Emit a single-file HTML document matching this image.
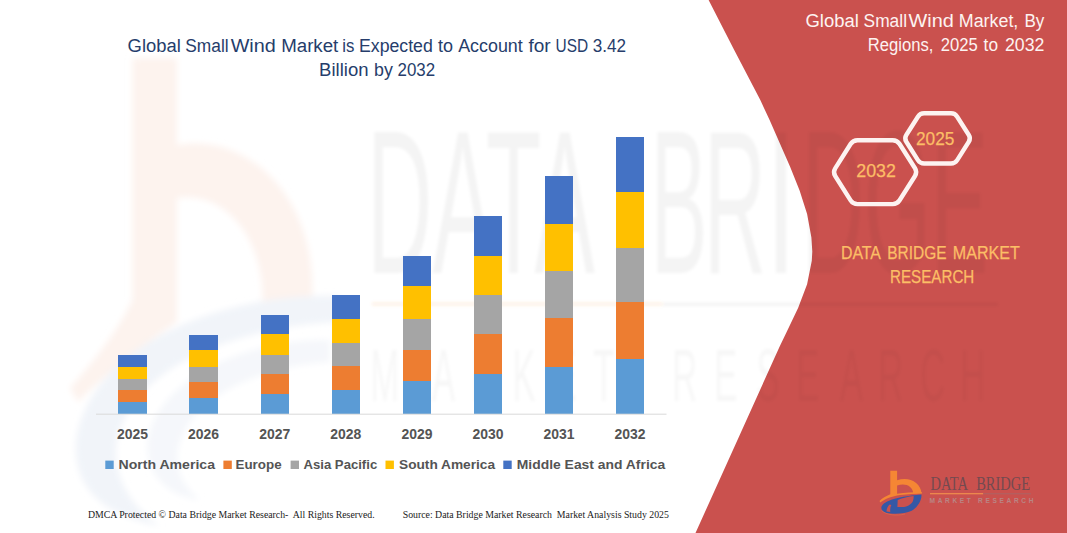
<!DOCTYPE html>
<html><head><meta charset="utf-8"><title>Global Small Wind Market</title>
<style>
html,body{margin:0;padding:0;background:#fff;}
body{width:1067px;height:533px;overflow:hidden;font-family:"Liberation Sans",sans-serif;}
svg{display:block}
svg text{font-family:"Liberation Sans",sans-serif;}
.serif{font-family:"Liberation Serif",serif !important;}
</style></head><body>
<svg width="1067" height="533" viewBox="0 0 1067 533">
<defs><filter id="bl" x="-5%" y="-5%" width="110%" height="110%"><feGaussianBlur stdDeviation="1.6"/></filter><filter id="bl2" x="-10%" y="-10%" width="120%" height="120%"><feGaussianBlur stdDeviation="3"/></filter></defs>
<rect width="1067" height="533" fill="#ffffff"/>

<!-- faint watermark logo -->
<g id="wm-logo" filter="url(#bl2)">
<path d="M132.5,58 L177,58 L177,145 C250,132 318,200 312,300 L262,312 C268,240 225,190 177,198 L177,322 C150,340 110,370 78,402 L70,388 C95,360 118,330 132.5,300 Z" fill="#fdf3ee"/>
<path d="M340,296 C230,292 92,340 76,440 C72,485 100,515 160,526 C114,495 108,450 124,420 C150,360 250,325 340,322 Z" fill="#f1f4f9"/>
<path d="M330,340 C260,338 170,370 150,430 C140,465 160,495 200,500 C175,480 172,455 184,432 C205,390 270,365 330,362 Z" fill="#f5f7fb"/>
</g>
<!-- red panel -->
<path id="panel" d="M708.6,0 L734.2,50 L760.3,100 L769.6,120 L779.9,143.5 L790.2,167 L799.6,190.4 L807.1,213.9 L811.4,237.4 L812.3,251.5 L811.8,260.8 L807.1,284.3 L798.2,307.8 L787,331.3 L780,345.7 L695.5,533 L1067,533 L1067,0 Z" fill="#ca514e"/>

<!-- faint watermark text -->
<g id="wm-text" fill="#000" fill-opacity="0.045" filter="url(#bl)">
<text x="367" y="273" font-size="205" textLength="228" lengthAdjust="spacingAndGlyphs">DATA</text>
<g font-size="205"><text x="650.5" y="273" textLength="57" lengthAdjust="spacingAndGlyphs">B</text>
<text x="704" y="273" textLength="62" lengthAdjust="spacingAndGlyphs">R</text>
<text x="766" y="273" textLength="30" lengthAdjust="spacingAndGlyphs">I</text>
<text x="802" y="273" textLength="62" lengthAdjust="spacingAndGlyphs">D</text>
<text x="864" y="273" textLength="67" lengthAdjust="spacingAndGlyphs">G</text>
<text x="931" y="273" textLength="57" lengthAdjust="spacingAndGlyphs">E</text></g>
<g font-size="75" fill-opacity="0.032"><text x="370.4" y="401" textLength="28.7" lengthAdjust="spacingAndGlyphs">M</text><text x="432.0" y="401" textLength="23.0" lengthAdjust="spacingAndGlyphs">A</text><text x="471.2" y="401" textLength="24.9" lengthAdjust="spacingAndGlyphs">R</text><text x="512.4" y="401" textLength="23.0" lengthAdjust="spacingAndGlyphs">K</text><text x="553.2" y="401" textLength="23.0" lengthAdjust="spacingAndGlyphs">E</text><text x="593.3" y="401" textLength="21.1" lengthAdjust="spacingAndGlyphs">T</text><text x="672.2" y="401" textLength="24.9" lengthAdjust="spacingAndGlyphs">R</text><text x="714.2" y="401" textLength="23.0" lengthAdjust="spacingAndGlyphs">E</text><text x="756.4" y="401" textLength="23.0" lengthAdjust="spacingAndGlyphs">S</text><text x="796.2" y="401" textLength="23.0" lengthAdjust="spacingAndGlyphs">E</text><text x="840.0" y="401" textLength="23.0" lengthAdjust="spacingAndGlyphs">A</text><text x="878.2" y="401" textLength="24.9" lengthAdjust="spacingAndGlyphs">R</text><text x="920.3" y="401" textLength="24.9" lengthAdjust="spacingAndGlyphs">C</text><text x="960.2" y="401" textLength="24.9" lengthAdjust="spacingAndGlyphs">H</text></g>
<rect x="372" y="302.5" width="290" height="3" fill="#f08034" fill-opacity="0.12"/>
<rect x="662" y="302.5" width="336" height="3.5"/>
</g>

<!-- left title -->
<g fill="#263d6b" font-size="18">
<text x="127.6" y="52" textLength="53.2" lengthAdjust="spacingAndGlyphs">Global</text>
<text x="185.3" y="52" textLength="43.3" lengthAdjust="spacingAndGlyphs">Small</text>
<text x="230.7" y="52" textLength="45.1" lengthAdjust="spacingAndGlyphs">Wind</text>
<text x="281.2" y="52" textLength="57.1" lengthAdjust="spacingAndGlyphs">Market</text>
<text x="342.2" y="52" textLength="12.1" lengthAdjust="spacingAndGlyphs">is</text>
<text x="359.0" y="52" textLength="73.8" lengthAdjust="spacingAndGlyphs">Expected</text>
<text x="438.0" y="52" textLength="15.0" lengthAdjust="spacingAndGlyphs">to</text>
<text x="458.2" y="52" textLength="64.6" lengthAdjust="spacingAndGlyphs">Account</text>
<text x="528.5" y="52" textLength="22.2" lengthAdjust="spacingAndGlyphs">for</text>
<text x="555.6" y="52" textLength="32.6" lengthAdjust="spacingAndGlyphs">USD</text>
<text x="592.7" y="52" textLength="33.3" lengthAdjust="spacingAndGlyphs">3.42</text>
<text x="319.1" y="75.9" textLength="49.4" lengthAdjust="spacingAndGlyphs">Billion</text>
<text x="374.0" y="75.9" textLength="18.8" lengthAdjust="spacingAndGlyphs">by</text>
<text x="397.5" y="75.9" textLength="37.6" lengthAdjust="spacingAndGlyphs">2032</text>
</g>

<!-- bars -->
<g id="bars" shape-rendering="crispEdges">
<rect x="118.3" y="354.6" width="28.4" height="12.1" fill="#4472C4"/>
<rect x="118.3" y="366.7" width="28.4" height="12.1" fill="#FFC000"/>
<rect x="118.3" y="378.8" width="28.4" height="11.0" fill="#A5A5A5"/>
<rect x="118.3" y="389.8" width="28.4" height="12.1" fill="#ED7D31"/>
<rect x="118.3" y="401.9" width="28.4" height="11.8" fill="#5B9BD5"/>
<rect x="189.4" y="334.9" width="28.4" height="15.5" fill="#4472C4"/>
<rect x="189.4" y="350.4" width="28.4" height="16.3" fill="#FFC000"/>
<rect x="189.4" y="366.7" width="28.4" height="14.9" fill="#A5A5A5"/>
<rect x="189.4" y="381.6" width="28.4" height="16.0" fill="#ED7D31"/>
<rect x="189.4" y="397.6" width="28.4" height="16.1" fill="#5B9BD5"/>
<rect x="260.5" y="314.6" width="28.4" height="19.7" fill="#4472C4"/>
<rect x="260.5" y="334.3" width="28.4" height="20.3" fill="#FFC000"/>
<rect x="260.5" y="354.6" width="28.4" height="19.7" fill="#A5A5A5"/>
<rect x="260.5" y="374.3" width="28.4" height="19.7" fill="#ED7D31"/>
<rect x="260.5" y="394.0" width="28.4" height="19.7" fill="#5B9BD5"/>
<rect x="331.6" y="294.6" width="28.4" height="24.0" fill="#4472C4"/>
<rect x="331.6" y="318.6" width="28.4" height="23.9" fill="#FFC000"/>
<rect x="331.6" y="342.5" width="28.4" height="23.9" fill="#A5A5A5"/>
<rect x="331.6" y="366.4" width="28.4" height="23.4" fill="#ED7D31"/>
<rect x="331.6" y="389.8" width="28.4" height="23.9" fill="#5B9BD5"/>
<rect x="402.7" y="255.8" width="28.4" height="30.5" fill="#4472C4"/>
<rect x="402.7" y="286.3" width="28.4" height="32.4" fill="#FFC000"/>
<rect x="402.7" y="318.7" width="28.4" height="31.5" fill="#A5A5A5"/>
<rect x="402.7" y="350.2" width="28.4" height="31.1" fill="#ED7D31"/>
<rect x="402.7" y="381.3" width="28.4" height="32.4" fill="#5B9BD5"/>
<rect x="473.7" y="216.0" width="28.4" height="39.8" fill="#4472C4"/>
<rect x="473.7" y="255.8" width="28.4" height="38.7" fill="#FFC000"/>
<rect x="473.7" y="294.5" width="28.4" height="39.7" fill="#A5A5A5"/>
<rect x="473.7" y="334.2" width="28.4" height="40.2" fill="#ED7D31"/>
<rect x="473.7" y="374.4" width="28.4" height="39.3" fill="#5B9BD5"/>
<rect x="544.8" y="175.7" width="28.4" height="48.3" fill="#4472C4"/>
<rect x="544.8" y="224.0" width="28.4" height="46.8" fill="#FFC000"/>
<rect x="544.8" y="270.8" width="28.4" height="47.5" fill="#A5A5A5"/>
<rect x="544.8" y="318.3" width="28.4" height="48.3" fill="#ED7D31"/>
<rect x="544.8" y="366.6" width="28.4" height="47.1" fill="#5B9BD5"/>
<rect x="615.8" y="136.9" width="28.4" height="55.1" fill="#4472C4"/>
<rect x="615.8" y="192.0" width="28.4" height="56.0" fill="#FFC000"/>
<rect x="615.8" y="248.0" width="28.4" height="54.3" fill="#A5A5A5"/>
<rect x="615.8" y="302.3" width="28.4" height="56.5" fill="#ED7D31"/>
<rect x="615.8" y="358.8" width="28.4" height="54.9" fill="#5B9BD5"/>
</g>
<line x1="96" y1="414.2" x2="666.5" y2="414.2" stroke="#d9d9d9" stroke-width="1"/>

<g font-size="14" font-weight="bold" fill="#545454">
<text x="117.0" y="438.8" textLength="31" lengthAdjust="spacingAndGlyphs">2025</text>
<text x="188.1" y="438.8" textLength="31" lengthAdjust="spacingAndGlyphs">2026</text>
<text x="259.2" y="438.8" textLength="31" lengthAdjust="spacingAndGlyphs">2027</text>
<text x="330.3" y="438.8" textLength="31" lengthAdjust="spacingAndGlyphs">2028</text>
<text x="401.4" y="438.8" textLength="31" lengthAdjust="spacingAndGlyphs">2029</text>
<text x="472.4" y="438.8" textLength="31" lengthAdjust="spacingAndGlyphs">2030</text>
<text x="543.5" y="438.8" textLength="31" lengthAdjust="spacingAndGlyphs">2031</text>
<text x="614.5" y="438.8" textLength="31" lengthAdjust="spacingAndGlyphs">2032</text>
</g>
<g font-size="13.4" font-weight="bold" fill="#545454">
<rect x="105.3" y="460.6" width="8.4" height="8.4" fill="#5B9BD5"/>
<text x="118.5" y="469.2" textLength="96.5" lengthAdjust="spacingAndGlyphs">North America</text>
<rect x="223.4" y="460.6" width="8.4" height="8.4" fill="#ED7D31"/>
<text x="235.5" y="469.2" textLength="46.1" lengthAdjust="spacingAndGlyphs">Europe</text>
<rect x="290.6" y="460.6" width="8.4" height="8.4" fill="#A5A5A5"/>
<text x="303.5" y="469.2" textLength="73.7" lengthAdjust="spacingAndGlyphs">Asia Pacific</text>
<rect x="385.5" y="460.6" width="8.4" height="8.4" fill="#FFC000"/>
<text x="399.0" y="469.2" textLength="96.1" lengthAdjust="spacingAndGlyphs">South America</text>
<rect x="503.3" y="460.6" width="8.4" height="8.4" fill="#4472C4"/>
<text x="516.8" y="469.2" textLength="148.4" lengthAdjust="spacingAndGlyphs">Middle East and Africa</text>
</g>

<!-- footer -->
<g class="serif" font-size="9.8" fill="#1a1a1a">
<text class="serif" x="87.9" y="517.7" textLength="286.7" lengthAdjust="spacingAndGlyphs" xml:space="preserve">DMCA Protected © Data Bridge Market Research-  All Rights Reserved.</text>
<text class="serif" x="402.7" y="517.7" textLength="266.2" lengthAdjust="spacingAndGlyphs" xml:space="preserve">Source: Data Bridge Market Research  Market Analysis Study 2025</text>
</g>

<!-- right title -->
<g fill="#fdf3f1" font-size="18">
<text x="805.5" y="27.3" textLength="53.4" lengthAdjust="spacingAndGlyphs">Global</text>
<text x="863.6" y="27.3" textLength="43.4" lengthAdjust="spacingAndGlyphs">Small</text>
<text x="908.5" y="27.3" textLength="45.3" lengthAdjust="spacingAndGlyphs">Wind</text>
<text x="958.8" y="27.3" textLength="59.5" lengthAdjust="spacingAndGlyphs">Market,</text>
<text x="1024.5" y="27.3" textLength="19.9" lengthAdjust="spacingAndGlyphs">By</text>
<text x="867.8" y="50.9" textLength="65.6" lengthAdjust="spacingAndGlyphs">Regions,</text>
<text x="940.8" y="50.9" textLength="37.0" lengthAdjust="spacingAndGlyphs">2025</text>
<text x="983.6" y="50.9" textLength="14.4" lengthAdjust="spacingAndGlyphs">to</text>
<text x="1005.0" y="50.9" textLength="39.4" lengthAdjust="spacingAndGlyphs">2032</text>
</g>

<!-- hexagons -->
<g fill="none" stroke="#fdf3f1" stroke-width="4.4" stroke-linejoin="round">
<path d="M835.2,176.0 Q832.8,172.1 835.2,168.3 L850.6,144.0 Q853.0,140.2 857.5,140.2 L892.7,140.2 Q897.2,140.2 899.6,144.0 L915.0,168.3 Q917.4,172.1 915.0,176.0 L899.6,200.3 Q897.2,204.1 892.7,204.1 L857.5,204.1 Q853.0,204.1 850.6,200.3 Z"/>
<path d="M906.3,141.8 Q904.1,138.4 906.3,135.0 L917.9,116.7 Q920.1,113.3 924.1,113.3 L951.0,113.3 Q955.0,113.3 957.2,116.7 L968.8,135.0 Q971.0,138.4 968.8,141.8 L957.2,160.1 Q955.0,163.5 951.0,163.5 L924.1,163.5 Q920.1,163.5 917.9,160.1 Z"/>
</g>
<g fill="#fcbe66" font-size="18" stroke="#fcbe66" stroke-width="0.25">
<text x="856.3" y="177.3" textLength="39.6" lengthAdjust="spacingAndGlyphs">2032</text>
<text x="916" y="145.4" textLength="38.4" lengthAdjust="spacingAndGlyphs">2025</text>
</g>

<!-- DBMR text -->
<g fill="#fcbe66" font-size="18" stroke="#fcbe66" stroke-width="0.25">
<text x="840.9" y="259.4" textLength="40.1" lengthAdjust="spacingAndGlyphs">DATA</text>
<text x="887.2" y="259.4" textLength="59.4" lengthAdjust="spacingAndGlyphs">BRIDGE</text>
<text x="952.8" y="259.4" textLength="67.1" lengthAdjust="spacingAndGlyphs">MARKET</text>
<text x="890" y="282.8" textLength="84.3" lengthAdjust="spacingAndGlyphs">RESEARCH</text>
</g>

<!-- logo -->
<g id="logo">
<path d="M890.3,470.8 L897.1,470.8 L897.1,480.2 C909,476 920.8,482.5 921.4,493 L913.2,493.6 C913,486 905,482.6 897.1,485.6 L897.1,494 L890.3,496.2 Z" fill="#f58634"/>
<path d="M881.4,507 C883,501.8 893,497 921.4,494.4 C922,500 918,507 911.7,510.8 C905,514 893,514.6 885.6,512.7 C882.5,511.5 881,509.5 881.4,507 Z M897.7,499.9 C903,498 908,496.8 913.6,496.1 C913.8,499 913,501.5 911.7,503.1 C909.5,505.5 907,506.7 904.1,507 L897.4,507 Z M886.5,511.4 C886.8,508 888,505.8 889.7,504.4 L891.3,505 C890.3,507 890,509.5 890.3,512 Z" fill="#3558a5" fill-rule="evenodd"/>
<path d="M890.3,494.3 C886,496 882,498.4 879.5,501 L880.3,502.6 C885,498.8 892,496.4 900,495.1 C908,494.1 915,493.7 922,493.5 L922,492.3 C913,492.3 905,492.7 897.1,493.7 Z" fill="#f58634"/>
<path d="M881.6,510.5 C886,515 897,516.2 905,514" fill="none" stroke="#e9734a" stroke-width="0.8" opacity="0.6"/>
<text class="serif" x="930.5" y="489.8" font-size="18.8" fill="#744a50" textLength="37.5" lengthAdjust="spacingAndGlyphs">DATA</text>
<text class="serif" x="976.2" y="489.8" font-size="18.8" fill="#744a50" textLength="54" lengthAdjust="spacingAndGlyphs">BRIDGE</text>
<line x1="930" y1="493.8" x2="983.2" y2="493.8" stroke="#f79a4e" stroke-width="1.1"/>
<line x1="983.2" y1="493.8" x2="1031" y2="493.8" stroke="#a8666a" stroke-width="0.9"/>
<text x="929.5" y="502.6" font-size="6.6" font-weight="bold" fill="#b98584" textLength="104" lengthAdjust="spacing">MARKET RESEARCH</text>
</g>
</svg>
</body></html>
